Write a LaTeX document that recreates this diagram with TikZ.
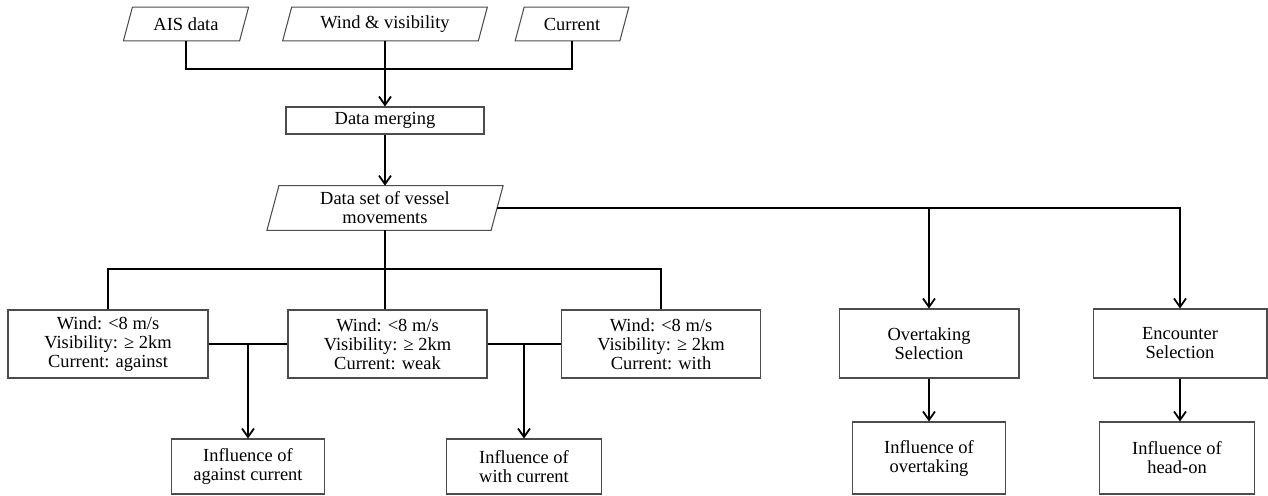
\documentclass[tikz,border=0pt]{standalone}
\usepackage{fontspec}
\setmainfont{Liberation Serif}
\usetikzlibrary{arrows.meta}

\tikzset{
  txt/.style={font=\fontsize{10.5}{10.8}\selectfont, align=center, inner sep=0pt},
  procbox/.style={txt, rectangle, draw=black!70, line width=0.6pt},
  databox/.style={txt, rectangle},
  outline/.style={draw=black!70, line width=0.6pt},
  flow/.style={line width=1pt},
  arr/.style={flow, -{Straight Barb[length=1.7mm,width=2.4mm]}}
}

\begin{document}
\begin{tikzpicture}[x=0.02cm,y=-0.02cm]
  \useasboundingbox (0,0) rectangle (1268,495);

  % input data
  \node[databox,minimum width=2.31cm,minimum height=0.66cm] (ais) at (186,24) {AIS data};
  \node[databox,minimum width=3.9cm,minimum height=0.66cm] (wind) at (385,24) {Wind \& visibility};
  \node[databox,minimum width=2.08cm,minimum height=0.66cm] (curr) at (572,24) {Current};
  \node[procbox,minimum width=3.96cm,minimum height=0.54cm] (merge) at (385,120.5) {Data merging};
  \node[databox,minimum width=4.47cm,minimum height=0.88cm] (dset) at (385,208) {Data set of vessel\\movements};
  \foreach \n/\s in {ais/0.09,wind/0.09,curr/0.09,dset/0.12}
    \draw[outline] ([xshift=-\s cm]\n.south west) -- ([xshift=\s cm]\n.north west)
      -- ([xshift=\s cm]\n.north east) -- ([xshift=-\s cm]\n.south east) -- cycle;

  % conditions
  \node[procbox,minimum width=4cm,minimum height=1.36cm] (cond1) at (108,344) {Wind: <8 m/s\\Visibility: ≥ 2km\\Current: against};
  \node[procbox,minimum width=3.98cm,minimum height=1.36cm] (cond2) at (387.5,344) {Wind: <8 m/s\\Visibility: ≥ 2km\\Current: weak};
  \node[procbox,minimum width=3.98cm,minimum height=1.36cm] (cond3) at (661,344) {Wind: <8 m/s\\Visibility: ≥ 2km\\Current: with};
  \node[procbox,minimum width=3.6cm,minimum height=1.38cm] (over) at (929,343.5) {Overtaking\\Selection};
  \node[procbox,minimum width=3.48cm,minimum height=1.38cm] (enc) at (1180,343.5) {Encounter\\Selection};

  % results
  \node[procbox,minimum width=3.06cm,minimum height=1.1cm] (inflag) at (248,466.5) {Influence of\\against current};
  \node[procbox,minimum width=3.1cm,minimum height=1.1cm] (inflwi) at (524,466.5) {Influence of\\with current};
  \node[procbox,minimum width=3.06cm,minimum height=1.44cm] (inflov) at (929,458) {Influence of\\overtaking};
  \node[procbox,minimum width=3.1cm,minimum height=1.44cm] (inflho) at (1177,458) {Influence of\\head-on};

  \coordinate (join) at (385,69);
  \coordinate (split) at (385,269);

  % connectors
  \draw[flow] (ais.south) |- (join) -| (curr.south);
  \draw[arr] (wind.south) -- (merge.north);
  \draw[arr] (merge.south) -- (dset.north);
  \draw[flow] (dset.south) -- (split);
  \draw[flow] (cond1.north) |- (split) -| (cond3.north);
  \draw[flow] (split) -- (split |- cond2.north);
  \draw[flow] (cond1.east) -- (cond2.west);
  \draw[flow] (cond2.east) -- (cond3.west);
  \draw[arr] (cond1.east -| inflag.north) -- (inflag.north);
  \draw[arr] (cond2.east -| inflwi.north) -- (inflwi.north);
  \draw[arr] (dset.east) -| (enc.north);
  \draw[arr] (dset.east -| over.north) -- (over.north);
  \draw[arr] (over.south) -- (inflov.north);
  \draw[arr] (enc.south) -- (enc.south |- inflho.north);
\end{tikzpicture}
\end{document}
